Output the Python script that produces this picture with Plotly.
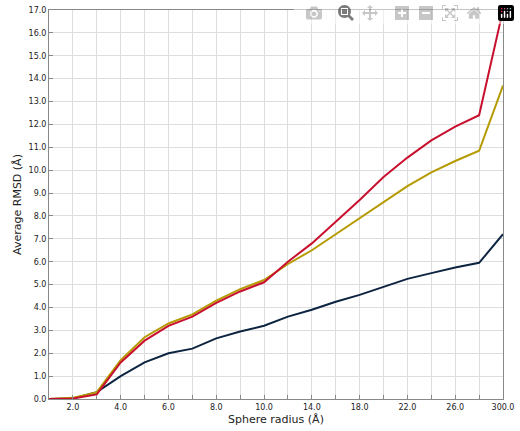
import plotly.graph_objects as go

radius = ["1.0", "2.0", "3.0", "4.0", "5.0", "6.0", "7.0", "8.0", "9.0", "10.0",
          "12.0", "14.0", "16.0", "18.0", "20.0", "22.0", "24.0", "26.0", "28.0", "300.0"]
red = [0, 0.02, 0.2, 1.6, 2.55, 3.2, 3.6, 4.2, 4.7, 5.1,
       6.0, 6.8, 7.75, 8.7, 9.7, 10.55, 11.3, 11.9, 12.4, 17.0]
gold = [0, 0.05, 0.3, 1.7, 2.7, 3.3, 3.7, 4.3, 4.8, 5.2,
        5.9, 6.5, 7.2, 7.9, 8.6, 9.3, 9.9, 10.4, 10.85, 13.7]
navy = [0, 0.02, 0.3, 1.0, 1.6, 2.0, 2.2, 2.65, 2.95, 3.2,
        3.6, 3.9, 4.25, 4.55, 4.9, 5.25, 5.5, 5.75, 5.95, 7.2]

idx = list(range(len(radius)))
ticktext = [r if i % 2 == 1 else "" for i, r in enumerate(radius)]

fig = go.Figure()
for ys, c in [(navy, "#0d2440"), (gold, "#b59a00"), (red, "#c8102e")]:
    fig.add_trace(go.Scatter(x=idx, y=ys, mode="lines", line=dict(color=c, width=2), showlegend=False))

fig.update_layout(
    width=520, height=431,
    margin=dict(l=49, r=13, t=6, b=32),
    plot_bgcolor="white", paper_bgcolor="white",
    font=dict(family="DejaVu Sans", size=11, color="#222"),
)
fig.update_xaxes(range=[0, 19], tickvals=idx, ticktext=ticktext, showgrid=True,
                 gridcolor="#dddddd", showline=True, linecolor="#888", mirror=True,
                 ticks="inside", ticklen=4, tickcolor="#888", tickfont=dict(size=8),
                 title=dict(text="Sphere radius (Å)", font=dict(size=11), standoff=4))
fig.update_yaxes(range=[0, 17], dtick=1, tickformat=".1f", showgrid=True,
                 gridcolor="#dddddd", showline=True, linecolor="#888", mirror=True,
                 ticks="inside", ticklen=4, tickcolor="#888", tickfont=dict(size=8),
                 zeroline=False, title=dict(text="Average RMSD (Å)", font=dict(size=11), standoff=4))
fig.write_html("out.html", post_script="document.body.style.margin='0';document.body.style.overflow='hidden';")
